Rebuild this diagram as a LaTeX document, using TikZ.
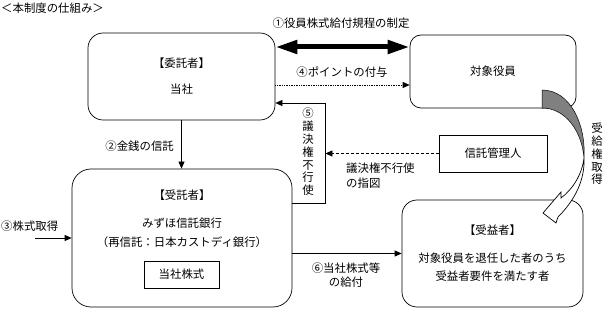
\documentclass[tikz,border=0pt]{standalone}
\usepackage{fontspec}
\setmainfont{Noto Sans CJK JP}
\usepackage{tikz}
\usetikzlibrary{arrows.meta, calc}

\begin{document}
\begin{tikzpicture}[x=1pt, y=-1pt,
    font=\fontsize{11.4pt}{14pt}\selectfont,
    rbox/.style={draw, line width=0.7pt, rounded corners=#1, inner sep=0pt, align=center},
    sbox/.style={draw, line width=0.7pt, inner sep=0pt},
    arr/.style={-{Triangle[length=7pt, width=6pt]}, line width=0.7pt},
    lbl/.style={inner sep=0pt, align=center},
    vlbl/.style={inner sep=0pt, align=center, font=\fontsize{11.4pt}{12.8pt}\selectfont}
  ]
  \useasboundingbox (0,0) rectangle (613,315);

  % Title
  \node[lbl, anchor=west] (title) at (1,8) {＜本制度の仕組み＞};

  % Trustor and target officers
  \node[rbox=15pt, minimum width=187pt, minimum height=87pt]
        (trustor) at (181.5,76.5) {【委託者】\\[12pt]当社};
  \node[rbox=11pt, minimum width=166pt, minimum height=73pt]
        (target) at (493,71.5) {対象役員};

  % Trust administrator
  \node[sbox, minimum width=108pt, minimum height=37pt]
        (admin) at (493,153.5) {信託管理人};

  % Trustee
  \node[rbox=19pt, minimum width=220pt, minimum height=138pt]
        (trustee) at (182,238) {};
  \node[lbl] (trusteetxt) at (182,218.5)
        {【受託者】\\[14pt]みずほ信託銀行\\[5pt]（再信託：日本カストディ銀行）};
  \node[sbox, minimum width=75pt, minimum height=27pt]
        (stock) at (181.5,274.5) {当社株式};

  % Beneficiary
  \node[rbox=15pt, minimum width=181pt, minimum height=107pt]
        (benef) at (492.5,253.5)
        {【受益者】\\[14pt]対象役員を退任した者のうち\\[4pt]受益者要件を満たす者};

  % (1) rules
  \draw[line width=5pt, {Triangle[length=22pt, width=13pt]}-{Triangle[length=22pt, width=13pt]}]
        ([yshift=29.5pt]trustor.east) -- ([yshift=24.5pt]target.west);
  \node[lbl] (rulelbl) at (341,23) {①役員株式給付規程の制定};

  % (4) points
  \draw[arr, densely dotted] ([yshift=-8.5pt]trustor.east) -- ([yshift=-13.5pt]target.west);
  \node[lbl] (pointlbl) at (342,72) {④ポイントの付与};

  % (2) money
  \draw[arr] (trustor.south) -- (trustor.south |- trustee.north);
  \node[lbl, anchor=east] (moneylbl) at (174,146) {②金銭の信託};

  % (3) purchase
  \coordinate (market) at (35,238);
  \draw[arr] (market) -- (trustee.west);
  \node[lbl, anchor=west] (buylbl) at (1,226) {③株式取得};

  % (5) voting rights
  \draw[arr] ([yshift=35pt]trustee.east) -- ++(33,0) coordinate (vote)
        |- ([yshift=-26.5pt]trustor.east);
  \node[vlbl] (votelbl) at (308,152) {⑤\\議\\決\\権\\不\\行\\使};

  \draw[arr, dash pattern=on 3pt off 2pt] (admin.west) -- (admin.west -| vote);
  \node[lbl, anchor=west, align=left] (instrlbl) at (346,175.5) {議決権不行使\\[1pt]の指図};

  % (6) delivery
  \draw[arr] (benef.west -| trustee.east) -- (benef.west);
  \node[lbl] (paylbl) at (346,275) {⑥当社株式等\\の給付};

  % curved arrow: entitlement
  \filldraw[fill=black!50, line width=0.5pt]
        (542,90) .. controls (570,90) and (586,124) .. (584,158)
        .. controls (582,132) and (566,108) .. (542,108) -- cycle;
  \filldraw[fill=white, line width=0.7pt]
        (584,158) .. controls (585,180) and (575,200) .. (558,217)
        -- (556,223) -- (543,213) -- (561,192) -- (561,198)
        .. controls (572,190) and (582,175) .. (584,158) -- cycle;
  \node[vlbl] (recvlbl) at (597,154) {受\\給\\権\\取\\得};
\end{tikzpicture}
\end{document}
